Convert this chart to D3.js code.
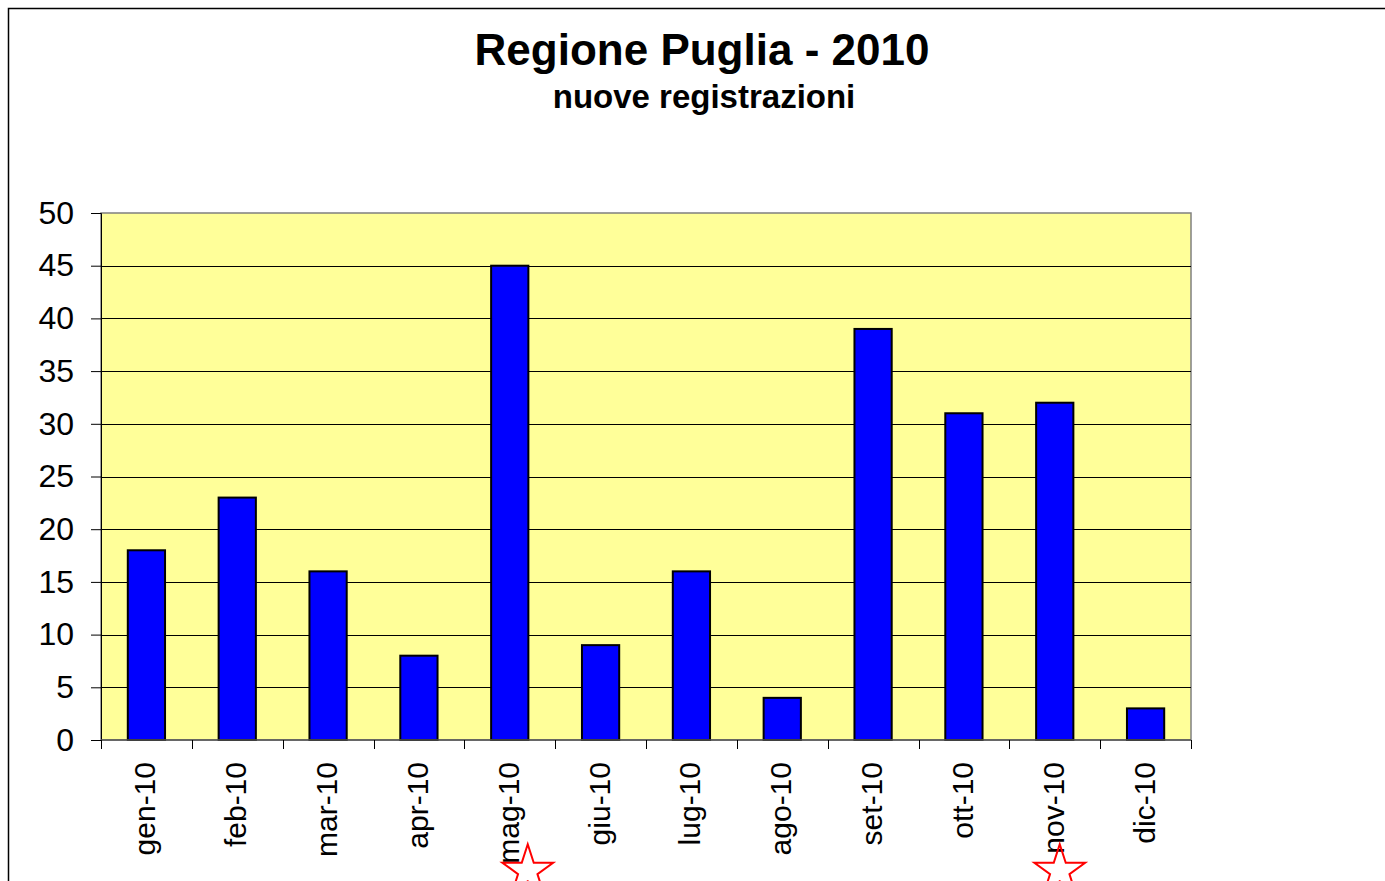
<!DOCTYPE html>
<html>
<head>
<meta charset="utf-8">
<script src="https://cdn.jsdelivr.net/npm/d3@7"></script>
<style>
  body { margin: 0; background: #fff; }
  svg { display: block; font-family: Arial, "Liberation Sans", sans-serif; }
</style>
</head>
<body>
<div id="chart"></div>
<script>
// Monthly new registrations, Puglia 2010
const months = ['gen-10', 'feb-10', 'mar-10', 'apr-10', 'mag-10', 'giu-10',
                'lug-10', 'ago-10', 'set-10', 'ott-10', 'nov-10', 'dic-10'];
const registrations = [18, 23, 16, 8, 45, 9, 16, 4, 39, 31, 32, 3];
const yTicks = [0, 5, 10, 15, 20, 25, 30, 35, 40, 45, 50];
const starredMonths = ['mag-10', 'nov-10'];

const W = 1385, H = 881;
const plot = { left: 101, right: 1191, top: 213, bottom: 740 };

const svg = d3.select('#chart').append('svg')
  .attr('width', W)
  .attr('height', H);

// outer chart frame (runs off the right and bottom edges)
svg.append('rect')
  .attr('x', 8.5).attr('y', 8.5)
  .attr('width', W + 10).attr('height', H + 10)
  .attr('fill', '#fff')
  .attr('stroke', '#000')
  .attr('stroke-width', 1.5);

// titles
svg.append('text')
  .attr('x', 702).attr('y', 65)
  .attr('text-anchor', 'middle')
  .attr('font-weight', 'bold')
  .attr('font-size', 44)
  .text('Regione Puglia - 2010');

svg.append('text')
  .attr('x', 704).attr('y', 108)
  .attr('text-anchor', 'middle')
  .attr('font-weight', 'bold')
  .attr('font-size', 33)
  .text('nuove registrazioni');

// scales
const x = d3.scaleBand()
  .domain(months)
  .range([plot.left, plot.right])
  .paddingInner(0.59)
  .paddingOuter(0.295);

const xEdges = d3.scaleLinear()
  .domain([0, months.length])
  .range([plot.left, plot.right]);

const y = d3.scaleLinear()
  .domain([0, 50])
  .range([plot.bottom, plot.top]);

// plot area background
svg.append('rect')
  .attr('x', plot.left).attr('y', plot.top)
  .attr('width', plot.right - plot.left)
  .attr('height', plot.bottom - plot.top)
  .attr('fill', '#FFFF99')
  .attr('stroke', '#808080')
  .attr('stroke-width', 1.5);

// gridlines
svg.append('g')
  .selectAll('line')
  .data(yTicks.filter(d => d > 0 && d < 50))
  .enter()
  .append('line')
  .attr('x1', plot.left).attr('x2', plot.right)
  .attr('y1', d => Math.round(y(d)) + 0.5)
  .attr('y2', d => Math.round(y(d)) + 0.5)
  .attr('stroke', '#000')
  .attr('stroke-width', 1);

// y axis
const yAxis = d3.axisLeft(y)
  .tickValues(yTicks)
  .tickSize(10)
  .tickPadding(17);

svg.append('g')
  .attr('transform', `translate(${plot.left},0)`)
  .call(yAxis)
  .call(g => g.select('.domain').attr('stroke', '#000').attr('stroke-width', 1))
  .call(g => g.selectAll('.tick line').attr('stroke', '#000'))
  .call(g => g.selectAll('.tick text')
    .attr('font-size', 32)
    .attr('font-family', 'Arial, "Liberation Sans", sans-serif')
    .attr('fill', '#000'));

// bars
svg.append('g')
  .selectAll('rect')
  .data(registrations)
  .enter()
  .append('rect')
  .attr('x', (d, i) => x(months[i]))
  .attr('y', d => y(d))
  .attr('width', x.bandwidth())
  .attr('height', d => y(0) - y(d))
  .attr('fill', '#0000FF')
  .attr('stroke', '#000')
  .attr('stroke-width', 2);

// x axis line and ticks at band edges
svg.append('line')
  .attr('x1', plot.left).attr('x2', plot.right)
  .attr('y1', plot.bottom).attr('y2', plot.bottom)
  .attr('stroke', '#555')
  .attr('stroke-width', 1.5);

svg.append('g')
  .selectAll('line')
  .data(d3.range(months.length + 1))
  .enter()
  .append('line')
  .attr('x1', d => Math.round(xEdges(d)) + 0.5)
  .attr('x2', d => Math.round(xEdges(d)) + 0.5)
  .attr('y1', plot.bottom)
  .attr('y2', plot.bottom + 9)
  .attr('stroke', '#000');

// rotated month labels
svg.append('g')
  .selectAll('text')
  .data(months)
  .enter()
  .append('text')
  .attr('transform', d => `translate(${x(d) + x.bandwidth() / 2 + 9},762) rotate(-90)`)
  .attr('text-anchor', 'end')
  .attr('font-size', 30)
  .text(d => d);

// red star markers, hand-placed a little right of the band centre
const starNudge = { 'mag-10': 18, 'nov-10': 5 };
const star = d3.symbol().type(d3.symbolStar).size(800);
svg.append('g')
  .selectAll('path')
  .data(starredMonths)
  .enter()
  .append('path')
  .attr('d', star)
  .attr('transform', d => `translate(${x(d) + x.bandwidth() / 2 + starNudge[d]},871)`)
  .attr('fill', 'none')
  .attr('stroke', '#FF0000')
  .attr('stroke-width', 2);
</script>
</body>
</html>
